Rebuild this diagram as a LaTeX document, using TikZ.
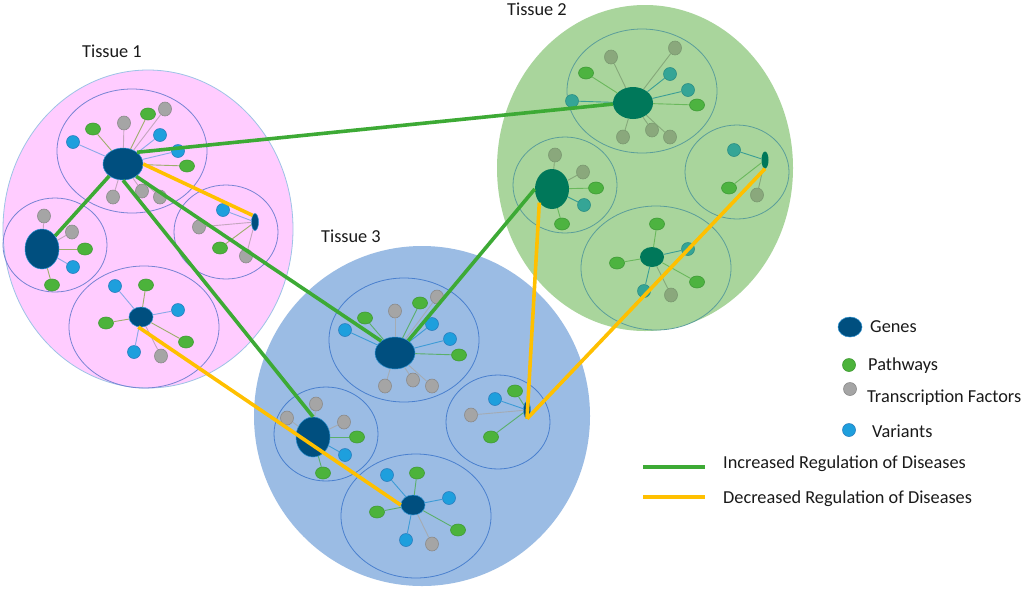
\documentclass[tikz,border=0pt]{standalone}
\usepackage{fontspec}
\setmainfont{Carlito}
\usetikzlibrary{shapes.geometric}
% tissue fills and outlines
\definecolor{tonefill}{HTML}{FFCCFF}
\definecolor{toneline}{HTML}{9DC3E6}
\definecolor{tonesub}{HTML}{7884D4}
\definecolor{ttwofill}{HTML}{A9D59C}
\definecolor{ttwosub}{HTML}{5B9E9A}
\definecolor{tthreefill}{HTML}{9BBCE4}
\definecolor{tthreesub}{HTML}{4A80CE}
% genes
\definecolor{geneblue}{HTML}{004F7F}
\definecolor{geneedge}{HTML}{2A8FCF}
\definecolor{geneteal}{HTML}{00785A}
% satellites tissue 1 / 3
\definecolor{c1g}{HTML}{4CB33B}\definecolor{d1g}{HTML}{3F9A33}\definecolor{e1g}{HTML}{9DAE6B}
\definecolor{c1r}{HTML}{A5A5A5}\definecolor{d1r}{HTML}{8A8A8A}\definecolor{e1r}{HTML}{C4A6BE}
\definecolor{c1b}{HTML}{1E9FDD}\definecolor{d1b}{HTML}{2B7FBF}\definecolor{e1b}{HTML}{8AA9E8}
\definecolor{c3g}{HTML}{4CB33B}\definecolor{d3g}{HTML}{3F9A33}\definecolor{e3g}{HTML}{5AAF6A}
\definecolor{c3r}{HTML}{A5A5A5}\definecolor{d3r}{HTML}{8A8A8A}\definecolor{e3r}{HTML}{A4ABB3}
\definecolor{c3b}{HTML}{1E9FDD}\definecolor{d3b}{HTML}{2B7FBF}\definecolor{e3b}{HTML}{3C9BD6}
% satellites tissue 2
\definecolor{c2g}{HTML}{4DB340}\definecolor{d2g}{HTML}{3D9A35}\definecolor{e2g}{HTML}{6AB85C}
\definecolor{c2r}{HTML}{8AA87C}\definecolor{d2r}{HTML}{7A9870}\definecolor{e2r}{HTML}{86A87A}
\definecolor{c2b}{HTML}{35A596}\definecolor{d2b}{HTML}{2C8E85}\definecolor{e2b}{HTML}{3A9E95}
% connectors
\definecolor{upgreen}{HTML}{3DAA35}
\definecolor{downyellow}{HTML}{FFC000}
\definecolor{txt}{HTML}{1A1A1A}

\newcommand\satcluster[3]{%
  \foreach \px/\py/\k [count=\i] in {#3}{%
    \node[sat\k, fill=c#1\k, draw=d#1\k] (#2-\i) at (\px,\py) {};
    \draw[satedge, draw=e#1\k] (#2) -- (#2-\i);
  }}

\begin{document}
\begin{tikzpicture}[x=1pt,y=-1pt,
  sat/.style={ellipse, inner sep=0pt, line width=0.6pt},
  satg/.style={sat, minimum width=15pt, minimum height=12pt},
  satr/.style={sat, minimum width=13pt, minimum height=14pt},
  satb/.style={sat, minimum width=13pt, minimum height=13pt},
  satedge/.style={line width=0.9pt},
  gene/.style={ellipse, inner sep=0pt},
  geneb/.style={gene, fill=geneblue, draw=geneedge, line width=0.5pt},
  genet/.style={gene, fill=geneteal},
  ghoriz/.style={minimum width=40pt, minimum height=32pt},
  gvert/.style={minimum width=34pt, minimum height=40pt},
  gmid/.style={minimum width=24pt, minimum height=20pt},
  gslim/.style={minimum width=7pt, minimum height=17pt},
  upreg/.style={draw=upgreen, line width=3.6pt},
  downreg/.style={draw=downyellow, line width=3.6pt},
  label/.style={font=\fontsize{18.3}{22}\selectfont, text=txt, inner sep=0pt},
  legtext/.style={label, anchor=west},
  subone/.style={draw=tonesub, line width=0.8pt},
  subtwo/.style={draw=ttwosub, line width=0.8pt},
  subthree/.style={draw=tthreesub, line width=0.8pt}
]
\useasboundingbox[fill=white] (0,0) rectangle (1024,590);

% ---------- tissue backgrounds ----------
\filldraw[fill=tonefill, draw=toneline, line width=0.8pt] (148,229) ellipse [x radius=145pt, y radius=159pt];
\fill[ttwofill] (645,168) ellipse [x radius=148pt, y radius=163pt];
\fill[tthreefill] (422,416) ellipse [x radius=168pt, y radius=170pt];

% ---------- sub clusters ----------
\draw[subone] (132,151) ellipse [x radius=75pt, y radius=62pt];
\draw[subone] (55,245) ellipse [x radius=52pt, y radius=47pt];
\draw[subone] (226,232) ellipse [x radius=52pt, y radius=47pt];
\draw[subone] (144,327) ellipse [x radius=75pt, y radius=61pt];

\draw[subtwo] (642,91) ellipse [x radius=75pt, y radius=62pt];
\draw[subtwo] (565,185) ellipse [x radius=52pt, y radius=48pt];
\draw[subtwo] (737,172) ellipse [x radius=52pt, y radius=47pt];
\draw[subtwo] (656,268) ellipse [x radius=75pt, y radius=62pt];

\draw[subthree] (404,340) ellipse [x radius=75pt, y radius=62pt];
\draw[subthree] (326,434) ellipse [x radius=52pt, y radius=47pt];
\draw[subthree] (498,422) ellipse [x radius=52pt, y radius=47pt];
\draw[subthree] (416,516) ellipse [x radius=75pt, y radius=62pt];

% ---------- labels ----------
\node[label] (lab1) at (112,51) {Tissue 1};
\node[label] (lab2) at (537,9) {Tissue 2};
\node[label] (lab3) at (351,236) {Tissue 3};

% ---------- genes ----------
\node[geneb, ghoriz] (t1a) at (123,164) {};
\node[geneb, gvert] (t1b) at (42,249) {};
\node[geneb, gslim] (t1c) at (255,222) {};
\node[geneb, gmid] (t1d) at (141,317) {};

\node[genet, ghoriz] (t2a) at (633,103) {};
\node[genet, gvert] (t2b) at (552,189) {};
\node[genet, gslim] (t2c) at (765,160) {};
\node[genet, gmid] (t2d) at (652,257) {};

\node[geneb, ghoriz] (t3a) at (395,353) {};
\node[geneb, gvert] (t3b) at (313,437) {};
\node[geneb, gslim] (t3c) at (527,410) {};
\node[geneb, gmid] (t3d) at (413,505) {};

% ---------- satellites ----------
\satcluster{1}{t1a}{73/142/b, 93/129/g, 124/123/r, 148/114/g, 165/109/r, 160/135/b, 178/151/b, 187/166/g, 113/197/r, 142/191/r, 160/197/r}
\satcluster{1}{t1b}{44/216/r, 72/232/r, 85/249/g, 73/267/b, 52/285/g}
\satcluster{1}{t1c}{223/210/b, 199/227/r, 220/248/g, 246/256/r}
\satcluster{1}{t1d}{115/286/b, 146/285/g, 178/310/b, 106/323/g, 186/342/g, 134/352/b, 161/356/r}

\satcluster{2}{t2a}{611/57/r, 675/48/r, 586/73/g, 670/74/b, 688/90/b, 697/105/g, 572/101/b, 623/137/r, 652/130/r, 670/137/r}
\satcluster{2}{t2b}{555/155/r, 583/172/r, 596/188/g, 584/205/b, 562/224/g}
\satcluster{2}{t2c}{734/150/b, 729/188/g, 757/195/r}
\satcluster{2}{t2d}{657/224/g, 617/263/g, 688/249/b, 697/282/g, 644/291/b, 671/295/r}

\satcluster{3}{t3a}{345/330/b, 365/318/g, 395/311/r, 420/303/g, 437/297/r, 432/324/b, 450/339/b, 459/355/g, 385/386/r, 413/380/r, 432/386/r}
\satcluster{3}{t3b}{316/404/r, 287/418/r, 344/422/r, 357/437/g, 345/455/b, 323/473/g}
\satcluster{3}{t3c}{495/399/b, 515/391/g, 471/415/r, 491/437/g}
\satcluster{3}{t3d}{387/475/b, 417/473/g, 449/498/b, 377/512/g, 458/530/g, 406/540/b, 432/544/r}

% ---------- regulation connectors ----------
\draw[upreg] (t1a.40) -- (t2a.183);
\draw[upreg] (t1a.221) -- (t1b.45);
\draw[upreg] (t1a.270) -- (t3b.90);
\draw[upreg] (t1a.317) -- (t3a.139);
\draw[upreg] (t3a.43) -- (t2b.180);

\draw[downreg] (t1a.0) -- (t1c.110);
\draw[downreg] (t1d.255) -- (t3d.180);
\draw[downreg] (t2b.227) -- (t3c.south);
\draw[downreg] (t3c.south) -- (t2c.south);

% ---------- legend ----------
\node[geneb, gmid] (lgene) at (850,327) {};
\node[legtext] (lgenet) at (870,327) {Genes};
\node[satb, fill=c1g, draw=d1g] (lpath) at (849,365) {};
\node[legtext] (lpatht) at (868,366) {Pathways};
\node[satb, fill=c1r, draw=d1r] (ltf) at (850,389) {};
\node[legtext] (ltft) at (867,398) {Transcription Factors};
\node[satb, fill=c1b, draw=d1b] (lvar) at (849,430) {};
\node[legtext] (lvart) at (872,431) {Variants};

\coordinate (lup1) at (643,467);
\coordinate (lup2) at (705,467);
\draw[upreg] (lup1) -- (lup2);
\node[legtext] (lupt) at (723,464) {Increased Regulation of Diseases};
\coordinate (ldown1) at (643,497);
\coordinate (ldown2) at (705,497);
\draw[downreg] (ldown1) -- (ldown2);
\node[legtext] (ldownt) at (723,499) {Decreased Regulation of Diseases};
\end{tikzpicture}
\end{document}
